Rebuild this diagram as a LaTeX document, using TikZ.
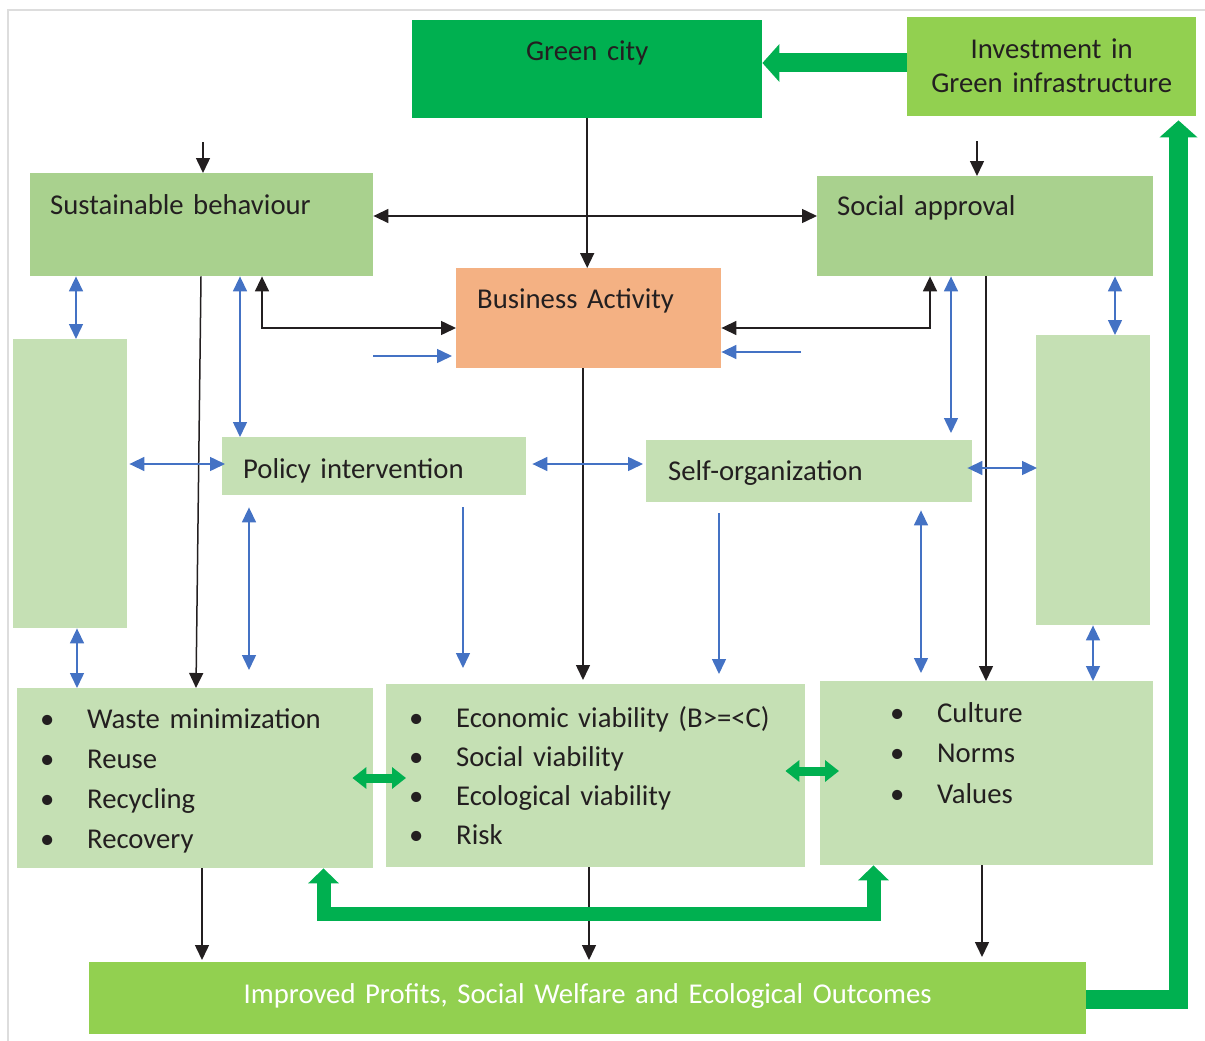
\documentclass[tikz,border=0pt]{standalone}
\usepackage{fontspec}
\setmainfont[WordSpace=0.85]{Carlito}
\usepackage{xcolor}
\usepackage{tikz}
\usetikzlibrary{arrows.meta, positioning}

\definecolor{citygreen}{HTML}{00B050}
\definecolor{limegreen}{HTML}{92D050}
\definecolor{midgreen}{HTML}{A9D18E}
\definecolor{palegreen}{HTML}{C5E0B4}
\definecolor{peach}{HTML}{F4B183}
\definecolor{arrowblue}{HTML}{4472C4}
\definecolor{framegray}{HTML}{DDDDDD}
\definecolor{inkblack}{HTML}{231F20}

\newcommand{\bull}{\makebox[47pt][l]{\textbullet}}

\begin{document}
\begin{tikzpicture}[x=1pt, y=-1pt, >={Triangle[length=15pt,width=14pt]},
    panel/.style={rectangle, anchor=north west, inner ysep=0pt, align=left, text=inkblack, font=\fontsize{28.7}{40}\selectfont},
    blk/.style={draw=inkblack, line width=1.5pt},
    blu/.style={draw=arrowblue, line width=1.5pt},
    bigarrow/.style={draw=citygreen, line width=19pt, -{Triangle[length=17pt,width=37pt]}},
    uarrow/.style={draw=citygreen, line width=14pt, {Triangle[length=15pt,width=30pt]}-{Triangle[length=15pt,width=30pt]}},
    smallarrow/.style={draw=citygreen, line width=9pt, {Triangle[length=14pt,width=21pt]}-{Triangle[length=14pt,width=21pt]}}]
    \useasboundingbox (0,0) rectangle (1205,1041);
    \draw[framegray, line width=2pt] (1205,10) -| (8,1041);

    \node[panel, fill=citygreen, align=center, inner xsep=0pt, text width=350pt, text height=40pt, text depth=58pt] (gcity) at (412,20) {Green city};
    \node[panel, fill=limegreen, align=center, inner xsep=0pt, text width=289pt, text height=41pt, text depth=58pt, font=\fontsize{28.7}{34}\selectfont] (invest) at (907,17) {Investment in\\Green infrastructure};
    \node[panel, fill=midgreen, inner xsep=20pt, text width=303pt, text height=41pt, text depth=62pt] (sust) at (30,173) {Sustainable behaviour};
    \node[panel, fill=midgreen, inner xsep=20pt, text width=296pt, text height=39pt, text depth=61pt] (social) at (817,176) {Social approval};
    \node[panel, fill=peach, inner xsep=21pt, text width=223pt, text height=40pt, text depth=60pt] (bus) at (456,268) {Business Activity};
    \node[panel, fill=palegreen, minimum width=114pt, minimum height=289pt] (lside) at (13,339) {};
    \node[panel, fill=palegreen, minimum width=114pt, minimum height=290pt] (rside) at (1036,335) {};
    \node[panel, fill=palegreen, inner xsep=21pt, text width=262pt, text height=41pt, text depth=17pt] (policy) at (222,437) {Policy intervention};
    \node[panel, fill=palegreen, inner xsep=22pt, text width=282pt, text height=40pt, text depth=22pt] (selforg) at (646,440) {Self-organization};
    \node[panel, fill=palegreen, inner xsep=23pt, text width=310pt, text height=40pt, text depth=140pt] (waste) at (17,688) {\bull Waste minimization\\\bull Reuse\\\bull Recycling\\\bull Recovery};
    \node[panel, fill=palegreen, inner xsep=23pt, text width=373pt, text height=43pt, text depth=140pt, font=\fontsize{28.7}{39}\selectfont] (econ) at (386,684) {\bull Economic viability (B>=<C)\\\bull Social viability\\\bull Ecological viability\\\bull Risk};
    \node[panel, fill=palegreen, inner xsep=70pt, text width=193pt, text height=41pt, text depth=143pt, font=\fontsize{28.7}{40.5}\selectfont] (culture) at (820,681) {\bull Culture\\\bull Norms\\\bull Values};
    \node[panel, fill=limegreen, text=white, align=center, inner xsep=0pt, text width=997pt, text height=41pt, text depth=31pt] (improved) at (89,962) {Improved Profits, Social Welfare and Ecological Outcomes};

    \coordinate (sustin) at (203,142);
    \coordinate (socin) at (977,141);
    \coordinate (busin) at (801,352);

    \draw[blk, ->] (sustin) -- (sustin |- sust.north);
    \draw[blk, ->] (socin) -- (socin |- social.north);
    \draw[blk, ->] (gcity.south) -- (gcity.south |- bus.north);
    \draw[blk, <->] (sust.east |- 0,216) -- (social.west |- 0,216);
    \draw[blk, <->] (sust.south -| 262,0) |- (bus.west |- 0,328);
    \draw[blk, <->] (bus.east |- 0,328) -| (social.south -| 930,0);
    \draw[blk, ->] (sust.south -| 201,0) -- (waste.north -| 196,0);
    \draw[blk, ->] (social.south -| 986,0) -- (culture.north -| 986,0);
    \draw[blk, ->, shorten >=4pt] (bus.south -| 583,0) -- (econ.north -| 583,0);
    \draw[blk, ->, shorten >=2pt] (waste.south -| 202,0) -- (improved.north -| 202,0);
    \draw[blk, ->, shorten >=2pt] (econ.south -| 589,0) -- (improved.north -| 589,0);
    \draw[blk, ->, shorten >=5pt] (culture.south -| 982,0) -- (improved.north -| 982,0);

    \draw[blu, ->, shorten >=4pt] (sust.east |- 0,356) -- (bus.west |- 0,356);
    \draw[blu, ->] (busin) -- (busin -| bus.east);
    \draw[blu, <->] (sust.south -| 76,0) -- (lside.north -| 76,0);
    \draw[blu, <->] (lside.south -| 77,0) -- (waste.north -| 77,0);
    \draw[blu, <->] (sust.south -| 240,0) -- (policy.north -| 240,0);
    \draw[blu, <->, shorten <=2pt, shorten >=-3pt] (lside.east |- 0,464) -- (policy.west |- 0,464);
    \draw[blu, <->, shorten <=6pt, shorten >=3pt] (policy.east |- 0,464) -- (selforg.west |- 0,464);
    \draw[blu, <->, shorten <=-5pt, shorten >=-1pt] (selforg.east |- 0,468) -- (rside.west |- 0,468);
    \draw[blu, <->, shorten >=7pt] (social.south -| 951,0) -- (selforg.north -| 951,0);
    \draw[blu, <->] (social.south -| 1115,0) -- (rside.north -| 1115,0);
    \draw[blu, <->] (rside.south -| 1093,0) -- (culture.north -| 1093,0);
    \draw[blu, <->, shorten <=12pt, shorten >=18pt] (policy.south -| 249,0) -- (waste.north -| 249,0);
    \draw[blu, ->, shorten <=12pt, shorten >=16pt] (policy.south -| 463,0) -- (econ.north -| 463,0);
    \draw[blu, ->, shorten <=11pt, shorten >=10pt] (selforg.south -| 719,0) -- (econ.north -| 719,0);
    \draw[blu, <->, shorten <=8pt, shorten >=8pt] (selforg.south -| 921,0) -- (culture.north -| 921,0);

    \draw[bigarrow] (invest.west |- 0,63) -- (gcity.east |- 0,63);
    \draw[bigarrow, shorten >=4pt] (improved.east |- 0,999) -| (invest.south -| 1178.5,0);
    \draw[uarrow] (waste.south -| 323.5,0) -- ++(0,46) -| (culture.south -| 873.5,0);
    \draw[smallarrow, shorten <=-21pt, shorten >=-20pt] (waste.east |- 0,778) -- (econ.west |- 0,778);
    \draw[smallarrow, shorten <=-20pt, shorten >=-19pt] (econ.east |- 0,771) -- (culture.west |- 0,771);
\end{tikzpicture}
\end{document}
